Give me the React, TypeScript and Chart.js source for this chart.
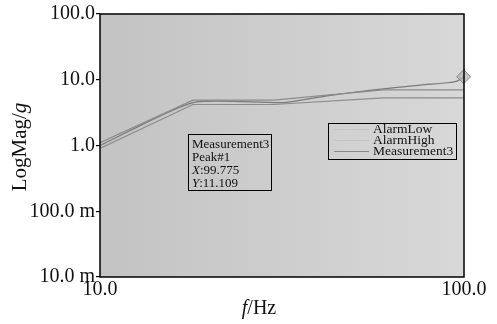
import React, { useEffect, useRef } from "react";
import { Chart, registerables } from "chart.js";

Chart.register(...registerables);

// Frequency axis (Hz) and magnitude readings (g)
const alarmFreq = [10, 18, 30, 60, 100];
const alarmLow = [0.9, 4.2, 4.2, 5.3, 5.3];
const alarmHigh = [1.1, 4.9, 4.9, 7.0, 7.0];
const measFreq = [10, 18, 32, 43, 55, 76, 90, 96, 99.775];
const measValues = [1.0, 4.5, 4.5, 5.8, 6.9, 8.3, 9.0, 9.6, 11.109];

const xTickValues = [10, 100];
const xTickLabels = ["10.0", "100.0"];
const yTickValues = [0.01, 0.1, 1, 10, 100];
const yTickLabels = ["10.0 m", "100.0 m", "1.0", "10.0", "100.0"];

const seriesNames = ["AlarmLow", "AlarmHigh", "Measurement3"];
const markerLines = ["Measurement3", "Peak#1", "X:99.775", "Y:11.109"];

const SERIF = "'Liberation Serif', 'Times New Roman', serif";

const toPoints = (xs: number[], ys: number[]) => xs.map((x, i) => ({ x, y: ys[i] }));

const decorPlugin = {
  id: "decor",
  beforeDraw(chart: any) {
    const { ctx, chartArea: a } = chart;
    ctx.save();
    const g = ctx.createLinearGradient(a.left, 0, a.right, 0);
    g.addColorStop(0, "#c3c3c3");
    g.addColorStop(1, "#d8d8d8");
    ctx.fillStyle = g;
    ctx.fillRect(a.left, a.top, a.right - a.left, a.bottom - a.top);
    ctx.restore();
  },
  afterDatasetsDraw(chart: any) {
    const { ctx, chartArea: a } = chart;
    ctx.save();
    // plot frame
    ctx.strokeStyle = "#000";
    ctx.lineWidth = 1.5;
    ctx.strokeRect(a.left, a.top, a.right - a.left, a.bottom - a.top);
    ctx.restore();
  },
  afterDraw(chart: any) {
    const { ctx } = chart;
    ctx.save();
    ctx.strokeStyle = "#000";

    // marker read-out box
    const bx = 188, by = 134, bw = 83, bh = 56;
    ctx.lineWidth = 1;
    ctx.strokeRect(bx + 0.5, by + 0.5, bw, bh);
    ctx.fillStyle = "#111";
    ctx.textBaseline = "middle";
    ctx.textAlign = "left";
    markerLines.forEach((t, i) => {
      const y = by + 11 + i * 13;
      const m = t.match(/^([XY])(:.*)$/);
      if (m) {
        ctx.font = `italic 13px ${SERIF}`;
        ctx.fillText(m[1], bx + 4, y);
        const w = ctx.measureText(m[1]).width;
        ctx.font = `13px ${SERIF}`;
        ctx.fillText(m[2], bx + 4 + w, y);
      } else {
        ctx.font = `13px ${SERIF}`;
        ctx.fillText(t, bx + 4, y);
      }
    });

    // legend box
    const lx = 328, ly = 123, lw = 128, lh = 36;
    ctx.strokeStyle = "#000";
    ctx.strokeRect(lx + 0.5, ly + 0.5, lw, lh);
    ctx.font = `13.5px ${SERIF}`;
    seriesNames.forEach((t, i) => {
      const y = ly + 6 + i * 11;
      ctx.strokeStyle = i === 2 ? "#8a8a8a" : "rgba(150,150,150,0.2)";
      ctx.lineWidth = 1;
      ctx.beginPath();
      ctx.moveTo(lx + 6, y + 0.5);
      ctx.lineTo(lx + 41, y + 0.5);
      ctx.stroke();
      ctx.fillStyle = "#111";
      ctx.fillText(t, lx + 45, y);
    });

    // axis titles
    ctx.fillStyle = "#111";
    ctx.font = `italic 20px ${SERIF}`;
    const fW = ctx.measureText("f").width;
    ctx.font = `20px ${SERIF}`;
    const hzW = ctx.measureText("/Hz").width;
    const tx = 259 - (fW + hzW) / 2;
    ctx.textAlign = "left";
    ctx.textBaseline = "middle";
    ctx.font = `italic 20px ${SERIF}`;
    ctx.fillText("f", tx, 309);
    ctx.font = `20px ${SERIF}`;
    ctx.fillText("/Hz", tx + fW, 309);

    ctx.translate(20, 147);
    ctx.rotate(-Math.PI / 2);
    ctx.font = `21px ${SERIF}`;
    const lmW = ctx.measureText("LogMag/").width;
    ctx.font = `italic 21px ${SERIF}`;
    const gW = ctx.measureText("g").width;
    const sx = -(lmW + gW) / 2;
    ctx.font = `21px ${SERIF}`;
    ctx.fillText("LogMag/", sx, 0);
    ctx.font = `italic 21px ${SERIF}`;
    ctx.fillText("g", sx + lmW, 0);
    ctx.restore();
  },
};

export default function App() {
  const ref = useRef<HTMLCanvasElement | null>(null);

  useEffect(() => {
    if (!ref.current) return;
    const lastIdx = measFreq.length - 1;
    const chart = new Chart(ref.current, {
      type: "line",
      data: {
        datasets: [
          {
            label: seriesNames[0],
            data: toPoints(alarmFreq, alarmLow),
            borderColor: "#8c8c8c",
            borderWidth: 1.2,
            pointRadius: 0,
            tension: 0,
          },
          {
            label: seriesNames[1],
            data: toPoints(alarmFreq, alarmHigh),
            borderColor: "#8c8c8c",
            borderWidth: 1.2,
            pointRadius: 0,
            tension: 0,
          },
          {
            label: seriesNames[2],
            data: toPoints(measFreq, measValues),
            borderColor: "#7a7a7a",
            borderWidth: 1.2,
            tension: 0.2,
            clip: false,
            pointStyle: "rectRot",
            pointRadius: (c: any) => (c.dataIndex === lastIdx ? 7 : 0),
            pointBackgroundColor: "rgba(175,175,175,0.7)",
            pointBorderColor: "#8a8a8a",
            pointBorderWidth: 1,
          },
        ],
      },
      options: {
        animation: false,
        responsive: true,
        maintainAspectRatio: false,
        layout: { padding: { left: 0, top: 14, right: 33, bottom: 0 } },
        plugins: { legend: { display: false }, tooltip: { enabled: false } },
        scales: {
          x: {
            type: "logarithmic",
            min: 10,
            max: 100,
            afterBuildTicks: (s: any) => {
              s.ticks = xTickValues.map((v) => ({ value: v }));
            },
            afterFit: (s: any) => {
              s.height = 47;
            },
            ticks: {
              autoSkip: false,
              maxRotation: 0,
              padding: 1,
              color: "#111",
              font: { family: SERIF, size: 20 },
              callback: (v: any) => {
                const i = xTickValues.indexOf(Number(v));
                return i >= 0 ? xTickLabels[i] : "";
              },
            },
            grid: { display: true, drawOnChartArea: false, drawTicks: false },
            border: { display: false },
          },
          y: {
            type: "logarithmic",
            min: 0.01,
            max: 100,
            afterBuildTicks: (s: any) => {
              s.ticks = yTickValues.map((v) => ({ value: v }));
            },
            afterFit: (s: any) => {
              s.width = 100;
            },
            ticks: {
              autoSkip: false,
              padding: 1,
              color: "#111",
              font: { family: SERIF, size: 20 },
              callback: (v: any) => {
                const i = yTickValues.findIndex((t) => Math.abs(t - Number(v)) < t * 1e-6);
                return i >= 0 ? yTickLabels[i] : "";
              },
            },
            grid: {
              display: true,
              drawOnChartArea: false,
              drawTicks: true,
              tickLength: 4,
              color: "#000",
              lineWidth: 1.2,
            },
            border: { display: false },
          },
        },
      },
      plugins: [decorPlugin],
    } as any);
    return () => chart.destroy();
  }, []);

  return (
    <div style={{ position: "fixed", left: 0, top: 0, width: 497, height: 324, background: "#fff" }}>
      <canvas ref={ref} />
    </div>
  );
}
